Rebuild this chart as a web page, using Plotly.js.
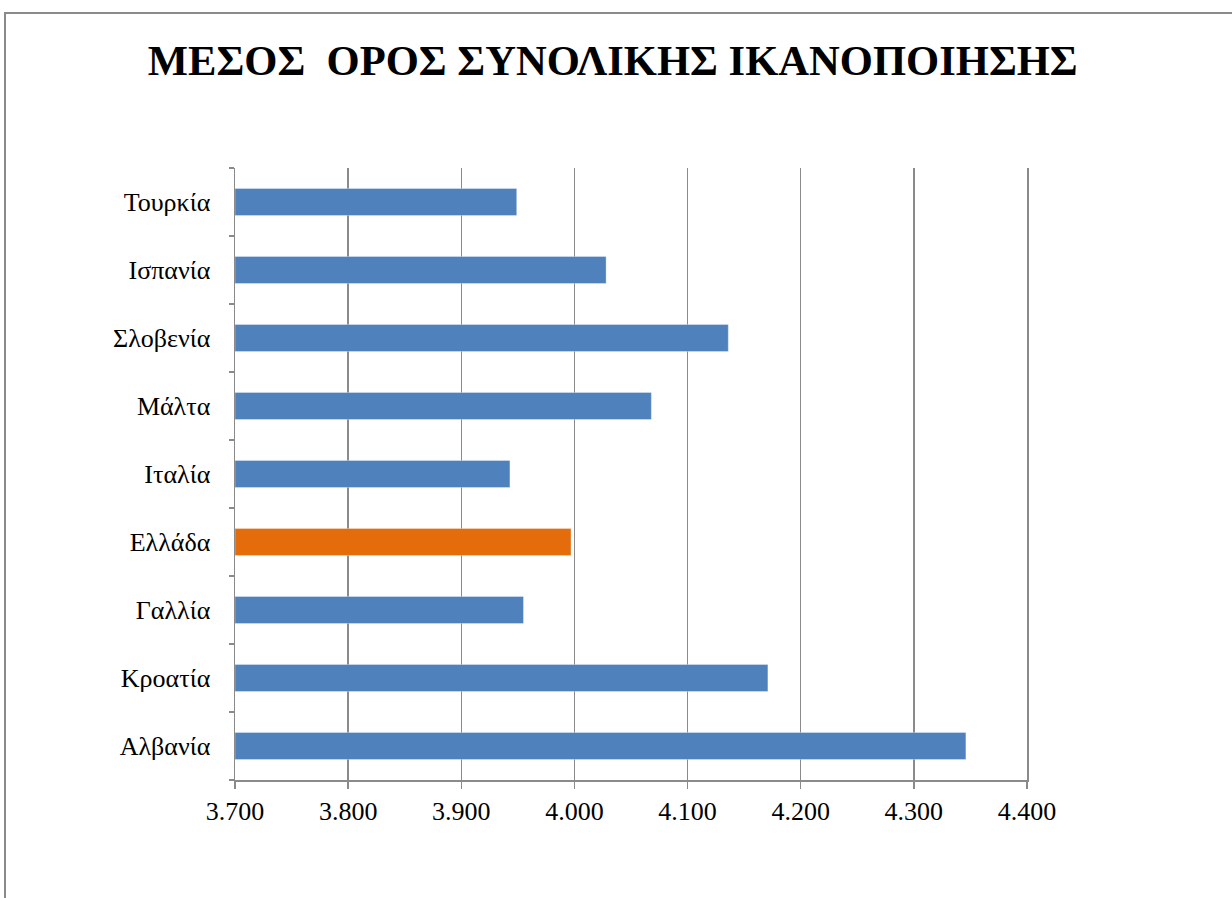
<!DOCTYPE html>
<html>
<head>
<meta charset="utf-8">
<script src="https://cdn.plot.ly/plotly-3.0.1.min.js"></script>
<style>
html,body{margin:0;padding:0;background:#fff;}
#chart{width:1232px;height:898px;}
#frame{position:absolute;left:4px;top:12px;right:0;bottom:0;border-top:2px solid #8a8a8a;border-left:2px solid #8a8a8a;pointer-events:none;}
</style>
</head>
<body>
<div id="chart"></div>
<div id="frame"></div>
<script>
const countries = ["Αλβανία","Κροατία","Γαλλία","Ελλάδα","Ιταλία","Μάλτα","Σλοβενία","Ισπανία","Τουρκία"];
const values = [4.346, 4.171, 3.955, 3.997, 3.943, 4.068, 4.136, 4.028, 3.949];
const highlight = "Ελλάδα";
const tickValues = [3.7, 3.8, 3.9, 4.0, 4.1, 4.2, 4.3, 4.4];
const chartTitle = "ΜΕΣΟΣ  ΟΡΟΣ ΣΥΝΟΛΙΚΗΣ ΙΚΑΝΟΠΟΙΗΣΗΣ";
const axisStart = 3.7;

const colors = countries.map(c => c === highlight ? "#E46C0A" : "#4F81BD");

const trace = {
  type: "bar",
  orientation: "h",
  y: countries,
  x: values.map(v => v - axisStart),
  base: axisStart,
  marker: {color: colors, line: {color: "rgba(255,255,255,0.35)", width: 1}},
  hoverinfo: "y"
};

const serif = "'Liberation Serif', 'Times New Roman', serif";

const layout = {
  width: 1232, height: 898,
  margin: {l: 235, r: 205, t: 168, b: 118, pad: 0},
  paper_bgcolor: "#fff", plot_bgcolor: "#fff",
  showlegend: false,
  bargap: 0.6,
  title: {
    text: "<b>" + chartTitle + "</b>",
    font: {family: serif, size: 42.6, color: "#000"},
    x: 0.477, xanchor: "center", xref: "paper",
    y: 0.933, yanchor: "middle", yref: "container"
  },
  xaxis: {
    range: [3.7, 4.4],
    tickvals: tickValues,
    ticktext: tickValues.map(v => v.toFixed(3)),
    showgrid: true, gridcolor: "#8a8a8a", gridwidth: 1.5,
    showline: true, linecolor: "#8a8a8a", linewidth: 1.5,
    ticks: "outside", ticklen: 7, tickcolor: "#8a8a8a", tickwidth: 1.5,
    tickfont: {family: serif, size: 26, color: "#000"},
    zeroline: false, fixedrange: true
  },
  yaxis: {
    type: "category",
    showgrid: false,
    showline: true, mirror: true, linecolor: "#8a8a8a", linewidth: 1.5,
    ticks: "outside", ticklen: 5, tickcolor: "#8a8a8a", tickwidth: 1.5,
    tickson: "boundaries",
    ticklabelstandoff: 18,
    tickfont: {family: serif, size: 26, color: "#000"},
    fixedrange: true
  }
};

Plotly.newPlot("chart", [trace], layout, {displayModeBar: false, staticPlot: true});
</script>
</body>
</html>
